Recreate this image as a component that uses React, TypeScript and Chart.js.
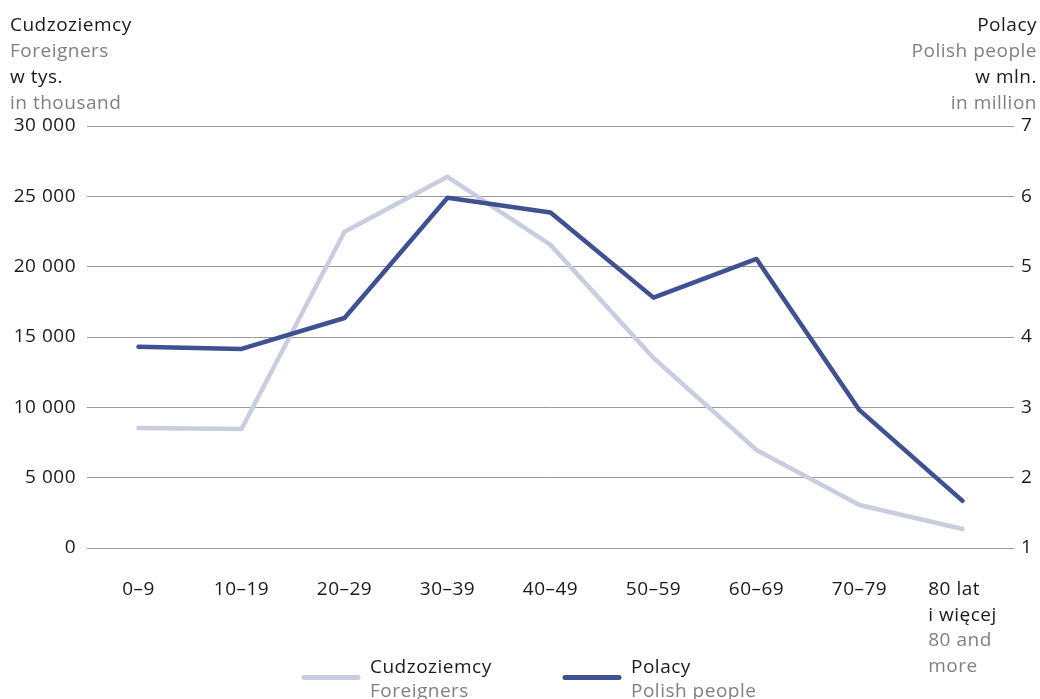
import React, { useEffect, useRef } from "react";
import { Chart, registerables } from "chart.js";

Chart.register(...registerables);

const categories = ["0–9", "10–19", "20–29", "30–39", "40–49", "50–59", "60–69", "70–79", "80 lat"];
const xLabelLines: string[][] = [["0–9"], ["10–19"], ["20–29"], ["30–39"], ["40–49"], ["50–59"], ["60–69"], ["70–79"], ["80 lat", "i więcej"]];
const xLabelLinesEn: string[][] = [[], [], [], [], [], [], [], [], ["80 and", "more"]];
const foreigners = [8530, 8460, 22480, 26390, 21550, 13510, 6970, 3060, 1350];
const polish = [3.86, 3.83, 4.27, 5.98, 5.77, 4.56, 5.11, 2.96, 1.67];
const leftTitle = ["Cudzoziemcy", "Foreigners", "w tys.", "in thousand"];
const rightTitle = ["Polacy", "Polish people", "w mln.", "in million"];
const legendLabels = [["Cudzoziemcy", "Foreigners"], ["Polacy", "Polish people"]];

const FONT = "'Open Sans', 'Noto Sans', sans-serif";
const FS = 19;
const LS = "0.5px";
const BLACK = "#1a1a1a";
const GRAY = "#808080";
const LIGHT = "#c8cde0";
const DARK = "#3f5190";

const fmt = (v: number) => String(v).replace(/\B(?=(\d{3})+(?!\d))/g, " ");

const spacingPlugin = {
  id: "spacing",
  beforeDraw(chart: any) {
    (chart.ctx as any).letterSpacing = LS;
  },
};

const textPlugin = {
  id: "customText",
  afterDraw(chart: any) {
    const ctx = chart.ctx as CanvasRenderingContext2D;
    ctx.save();
    (ctx as any).letterSpacing = LS;
    ctx.font = `${FS}px ${FONT}`;
    ctx.textBaseline = "alphabetic";
    const baselines = [30.7, 56.9, 83.1, 109.3];
    leftTitle.forEach((t, i) => {
      ctx.fillStyle = i % 2 === 0 ? BLACK : GRAY;
      ctx.textAlign = "left";
      ctx.fillText(t, 10, baselines[i]);
    });
    rightTitle.forEach((t, i) => {
      ctx.fillStyle = i % 2 === 0 ? BLACK : GRAY;
      ctx.textAlign = "right";
      ctx.fillText(t, 1037, baselines[i]);
    });
    const xs = chart.scales.x;
    ctx.textAlign = "left";
    xLabelLines.forEach((lines, i) => {
      const all = [...lines, ...xLabelLinesEn[i]];
      const maxW = Math.max(...all.map((l) => ctx.measureText(l).width));
      const cx = xs.getPixelForValue(i);
      const x0 = cx - maxW / 2;
      all.forEach((l, j) => {
        ctx.fillStyle = j < lines.length ? BLACK : GRAY;
        ctx.fillText(l, x0, 595 + j * 25.6);
      });
    });
    const items = [
      { x: 302, tx: 370, color: LIGHT },
      { x: 563, tx: 631, color: DARK },
    ];
    items.forEach((it, i) => {
      ctx.strokeStyle = it.color;
      ctx.lineWidth = 5;
      ctx.lineCap = "round";
      ctx.beginPath();
      ctx.moveTo(it.x + 2, 677.5);
      ctx.lineTo(it.x + 56, 677.5);
      ctx.stroke();
      ctx.fillStyle = BLACK;
      ctx.fillText(legendLabels[i][0], it.tx, 673);
      ctx.fillStyle = GRAY;
      ctx.fillText(legendLabels[i][1], it.tx, 697);
    });
    ctx.restore();
  },
};

export default function App() {
  const ref = useRef<HTMLCanvasElement | null>(null);
  useEffect(() => {
    if (!ref.current) return;
    const chart = new Chart(ref.current, {
      type: "line",
      data: {
        labels: categories,
        datasets: [
          {
            label: "Polacy",
            data: polish,
            yAxisID: "y2",
            borderColor: DARK,
            borderWidth: 4.5,
            pointRadius: 0,
            tension: 0,
            borderJoinStyle: "round",
            borderCapStyle: "round",
            order: 0,
          },
          {
            label: "Cudzoziemcy",
            data: foreigners,
            yAxisID: "y",
            borderColor: LIGHT,
            borderWidth: 4.5,
            pointRadius: 0,
            tension: 0,
            borderJoinStyle: "round",
            borderCapStyle: "round",
            order: 1,
          },
        ],
      },
      options: {
        responsive: false,
        animation: false,
        layout: { padding: { top: 126, bottom: 0, left: 0, right: 0 } },
        plugins: { legend: { display: false }, tooltip: { enabled: false } },
        scales: {
          x: {
            offset: true,
            grid: { display: false },
            border: { display: false },
            ticks: { display: false },
            afterFit: (s: any) => {
              s.height = 151;
            },
          },
          y: {
            position: "left",
            min: 0,
            max: 30000,
            ticks: {
              stepSize: 5000,
              padding: 11,
              color: BLACK,
              font: { family: FONT, size: FS },
              callback: (v: any) => fmt(Number(v)),
            },
            grid: { color: "#9a9a9a", lineWidth: 1, drawTicks: false },
            border: { display: false },
            afterFit: (s: any) => {
              s.width = 87;
            },
          },
          y2: {
            position: "right",
            min: 1,
            max: 7,
            ticks: {
              stepSize: 1,
              padding: 7,
              color: BLACK,
              font: { family: FONT, size: FS },
            },
            grid: { display: false, drawTicks: false },
            border: { display: false },
            afterFit: (s: any) => {
              s.width = 26;
            },
          },
        },
      },
      plugins: [spacingPlugin, textPlugin],
    });
    return () => chart.destroy();
  }, []);
  return (
    <div style={{ position: "absolute", left: 0, top: 0, width: 1040, height: 699, background: "#fff" }}>
      <canvas ref={ref} width={1040} height={699} style={{ display: "block" }} />
    </div>
  );
}
